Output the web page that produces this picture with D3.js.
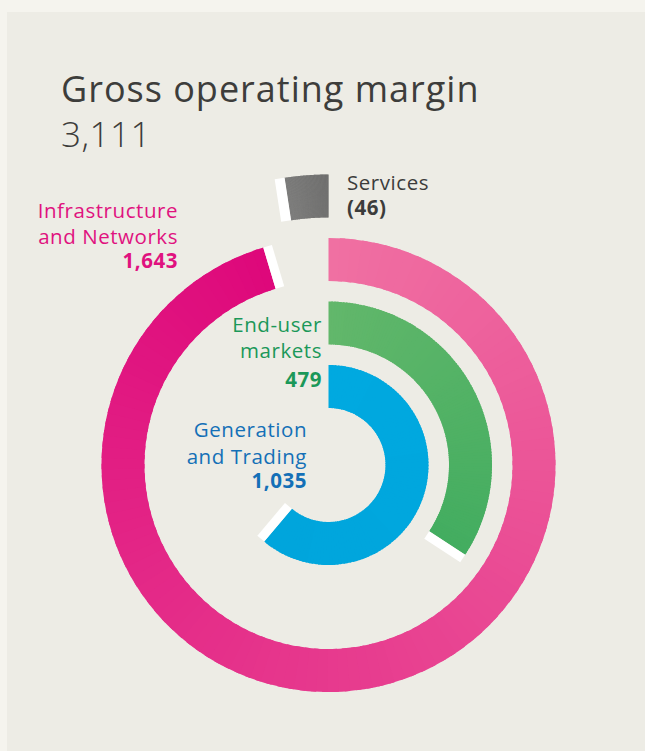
<!DOCTYPE html>
<html>
<head>
<meta charset="utf-8">
<script src="https://cdn.jsdelivr.net/npm/d3@7"></script>
<style>
  html, body { margin: 0; padding: 0; background: #f5f4ee; }
  svg { display: block; }
</style>
</head>
<body>
<svg id="chart" width="645" height="751"></svg>
<script>
// ---- data ----
const title = "Gross operating margin";
const total = "3,111";
const categories = ["Generation and Trading", "End-user markets", "Infrastructure and Networks", "Services"];
const values = [1035, 479, 1643, -46];
const valueLabels = ["1,035", "479", "1,643", "(46)"];
const nameLines = [["Generation", "and Trading"], ["End-user", "markets"], ["Infrastructure", "and Networks"], ["Services"]];
const colorStart = ["#00a9e0", "#62b76b", "#f070a2", "#5c5c5c"];
const colorEnd = ["#00a5dc", "#43ad60", "#de087b", "#6c6c6c"];
const textColors = ["#1470b7", "#1b9859", "#e0127f", "#3c3c3b"];

const svg = d3.select("#chart");
svg.append("rect").attr("x", 7).attr("y", 12).attr("width", 638).attr("height", 739).attr("fill", "#edece5");

const font = "'Open Sans', Roboto, sans-serif";
svg.append("text").attr("x", 61).attr("y", 102).attr("font-family", font).attr("font-size", 36)
  .attr("letter-spacing", 1).attr("fill", "#3d3d3b").text(title);
svg.append("text").attr("x", 61).attr("y", 147).attr("font-family", font).attr("font-size", 35).attr("font-weight", 300)
  .attr("letter-spacing", 0.5).attr("fill", "#3d3d3b").text(total);

const cx = 328.5, cy = 465;
const g = svg.append("g").attr("transform", `translate(${cx},${cy})`);

const radius = d3.scaleBand().domain(categories).range([57, 290.5]).paddingInner(0.323).paddingOuter(0);
const angle = d3.scaleLinear()
  .domain([-46, 0, 479, 1035, 1643])
  .range([-8.7, 0, 123.3, 220, 343.3].map(d => d * Math.PI / 180));

const arc = d3.arc();
const N = 120;
categories.forEach((c, i) => {
  const r0 = radius(c), r1 = r0 + radius.bandwidth();
  const a0 = angle(0), a1 = angle(values[i]);
  const interp = d3.interpolateRgb(colorStart[i], colorEnd[i]);
  const segs = d3.range(N);
  g.append("g").selectAll("path").data(segs).join("path")
    .attr("d", k => {
      const s = a0 + (a1 - a0) * k / N;
      const e = a0 + (a1 - a0) * (k + 1) / N;
      const pad = (k < N - 1) ? (a1 - a0) * 0.004 : 0;
      return arc({innerRadius: r0, outerRadius: r1, startAngle: Math.min(s, e + pad), endAngle: Math.max(s, e + pad)});
    })
    .attr("fill", k => interp((k + 0.5) / N));
  // white end cap
  const deg = a1 * 180 / Math.PI;
  const dir = values[i] >= 0 ? 1 : -1;
  const w = i === 3 ? 10 : 9;
  g.append("rect")
    .attr("x", dir > 0 ? 0 : -w)
    .attr("y", -r1)
    .attr("width", w)
    .attr("height", r1 - r0)
    .attr("fill", "#ffffff")
    .attr("transform", `rotate(${deg})`);
});

// labels
const labelPos = [
  {x: 307, y: [437, 464, 488], anchor: "end"},
  {x: 322, y: [332, 358, 387], anchor: "end"},
  {x: 178, y: [218, 244, 268], anchor: "end"},
  {x: 347, y: [190, 215], anchor: "start"}
];
categories.forEach((c, i) => {
  const p = labelPos[i];
  const t = svg.append("g").attr("font-family", font).attr("font-size", 20.5).attr("letter-spacing", 0.55)
    .attr("fill", textColors[i]).attr("text-anchor", p.anchor);
  nameLines[i].forEach((ln, j) => t.append("text").attr("x", p.x).attr("y", p.y[j]).text(ln));
  t.append("text").attr("x", p.x).attr("y", p.y[nameLines[i].length]).attr("font-weight", 700).text(valueLabels[i]);
});
</script>
</body>
</html>
